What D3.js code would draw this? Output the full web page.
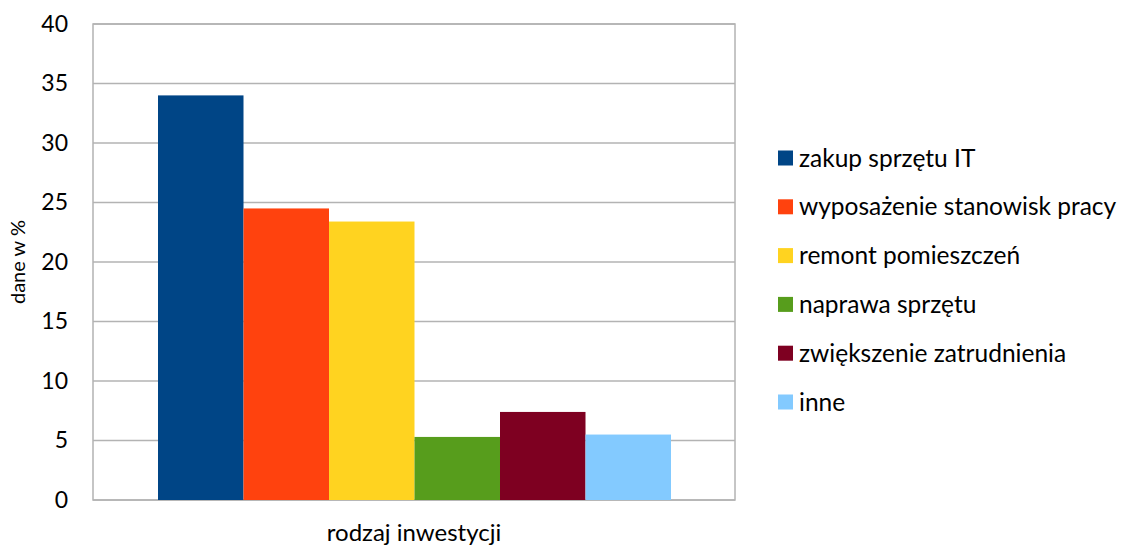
<!DOCTYPE html>
<html><head><meta charset="utf-8">
<script src="https://cdn.jsdelivr.net/npm/d3@7"></script>
<style>body{margin:0;background:#fff;}svg{display:block;font-family:Lato,"Open Sans",sans-serif;}</style>
</head><body><svg id="c" width="1121" height="546"></svg>
<script>
const categories = ["zakup sprzętu IT","wyposażenie stanowisk pracy","remont pomieszczeń","naprawa sprzętu","zwiększenie zatrudnienia","inne"];
const values = [34, 24.5, 23.4, 5.3, 7.4, 5.5];
const colors = ["#004586","#ff420e","#ffd320","#579d1c","#7e0021","#83caff"];
const yTicks = [0,5,10,15,20,25,30,35,40];
const groupLabel = "rodzaj inwestycji";
const yTitle = "dane w %";

const svg = d3.select("#c");
const L=93, R=735, T=24, B=500;
const y = d3.scaleLinear().domain([0,40]).range([B,T]);
const gx0 = 158, gx1 = 671;
const xb = d3.scaleBand().domain(categories).range([gx0,gx1]).padding(0);

// gridlines
svg.append("g").selectAll("line").data(yTicks).join("line")
  .attr("x1",L).attr("x2",R).attr("y1",d=>y(d)).attr("y2",d=>y(d))
  .attr("stroke","#b3b3b3").attr("stroke-width",1.5);
// plot border
svg.append("rect").attr("x",L).attr("y",T).attr("width",R-L).attr("height",B-T)
  .attr("fill","none").attr("stroke","#b3b3b3").attr("stroke-width",1.5);

// bars
svg.append("g").selectAll("rect").data(values).join("rect")
  .attr("x",(d,i)=>xb(categories[i])).attr("width",xb.bandwidth())
  .attr("y",d=>y(d)).attr("height",d=>B-y(d))
  .attr("fill",(d,i)=>colors[i]);

// y axis labels
const ya = svg.append("g").attr("transform",`translate(${L},0)`)
  .call(d3.axisLeft(y).tickValues(yTicks).tickSize(0).tickPadding(25));
ya.select(".domain").remove();
ya.selectAll("text").attr("font-size",23).attr("font-family","Lato,'Open Sans',sans-serif").attr("fill","#000");

// axis titles
svg.append("text").attr("transform",`translate(25,${(T+B)/2}) rotate(-90)`)
  .attr("text-anchor","middle").attr("font-size",20).text(yTitle);
svg.append("text").attr("x",(L+R)/2).attr("y",541).attr("text-anchor","middle")
  .attr("font-size",24).text(groupLabel);

// legend
const lg = svg.append("g").selectAll("g").data(categories).join("g")
  .attr("transform",(d,i)=>`translate(778,${158+i*48.8})`);
lg.append("rect").attr("x",0).attr("y",-7.5).attr("width",15).attr("height",15).attr("fill",(d,i)=>colors[i]);
lg.append("text").attr("x",21).attr("y",0).attr("dy","0.35em").attr("font-size",24.5).text(d=>d);
</script></body></html>
